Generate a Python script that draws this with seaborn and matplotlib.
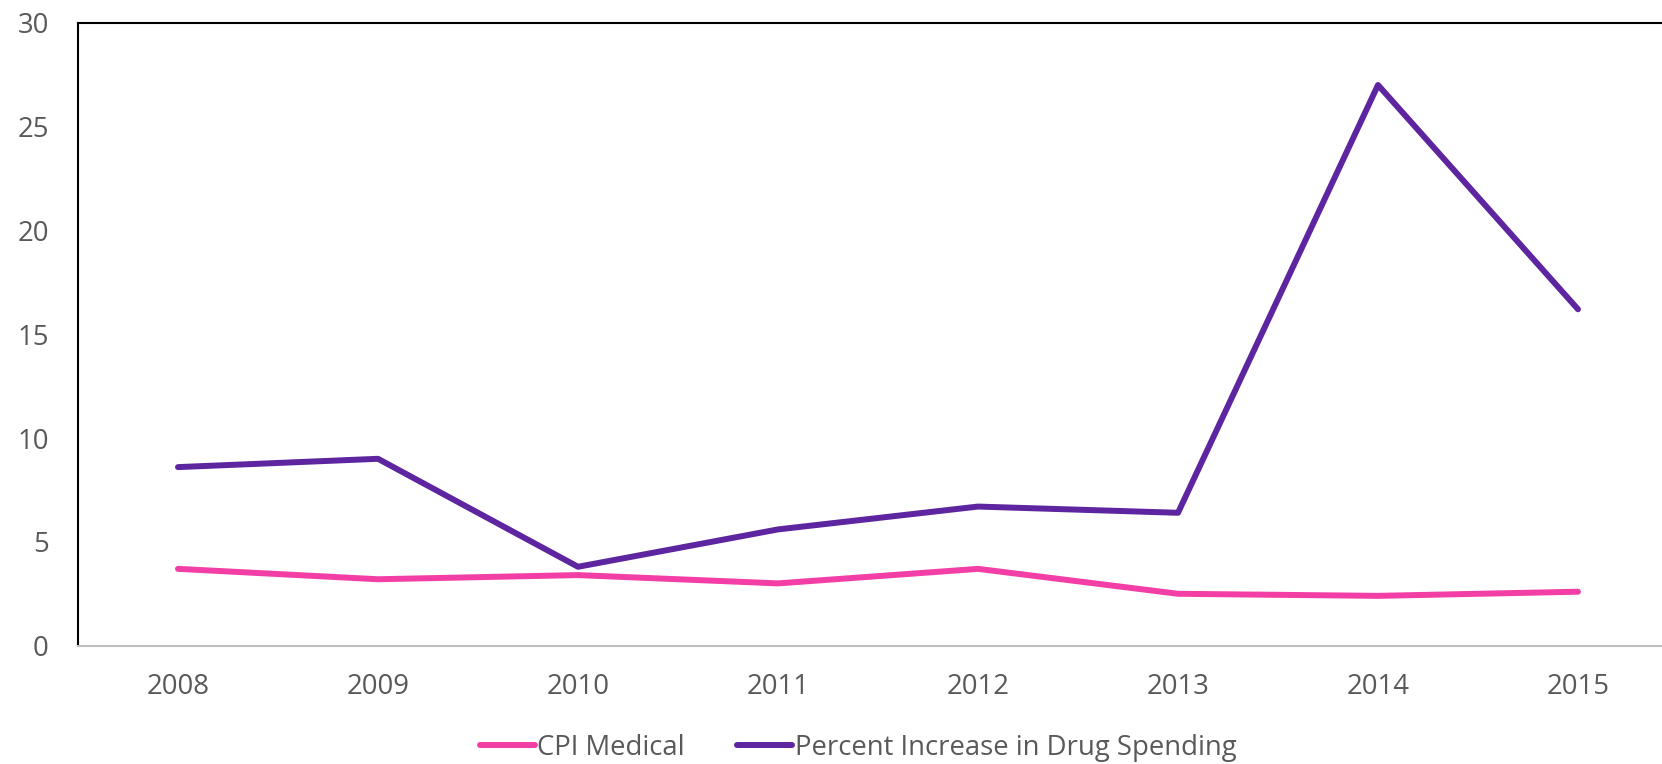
import matplotlib
matplotlib.use('Agg')
import matplotlib.pyplot as plt
import pandas as pd
import seaborn as sns

# data
years = ['2008', '2009', '2010', '2011', '2012', '2013', '2014', '2015']
cpi_medical = [3.7, 3.2, 3.4, 3.0, 3.7, 2.5, 2.4, 2.6]
drug_spending = [8.6, 9.0, 3.8, 5.6, 6.7, 6.4, 27.0, 16.2]
series_names = ['CPI Medical', 'Percent Increase in Drug Spending']
colors = ['#F33EA5', '#5D259F']

df = pd.DataFrame({
    'pos': list(range(len(years))) * 2,
    'value': cpi_medical + drug_spending,
    'series': [series_names[0]] * len(years) + [series_names[1]] * len(years),
})

sns.set_theme(style='white')
plt.rcParams['font.family'] = ['Open Sans', 'DejaVu Sans']

fig = plt.figure(figsize=(16.62, 7.64), dpi=100)
ax = fig.add_axes([78 / 1662, 118.3 / 764, 1584 / 1662, 623 / 764])

sns.lineplot(data=df, x='pos', y='value', hue='series', palette=colors,
             linewidth=4.3, ax=ax, legend=False)
for ln in ax.get_lines():
    ln.set_solid_capstyle('round')
    ln.set_solid_joinstyle('round')

ax.set_xlim(-0.5, -0.5 + 1584 / 200)
ax.set_ylim(0, 30)
ax.set_xticks(range(len(years)))
ax.set_xticklabels(years)
ax.set_yticks(range(0, 31, 5))
ax.set_xlabel('')
ax.set_ylabel('')
ax.tick_params(axis='both', length=0, labelsize=19.8, labelcolor='#595959')
ax.tick_params(axis='y', pad=21)
ax.tick_params(axis='x', pad=20)

ax.spines['right'].set_visible(False)
ax.spines['left'].set_color('black')
ax.spines['left'].set_linewidth(1.5)
ax.spines['top'].set_color('black')
ax.spines['top'].set_linewidth(1.5)
ax.spines['bottom'].set_color('#BFBFBF')
ax.spines['bottom'].set_linewidth(1.5)

handles = [plt.Line2D([], [], color=c, linewidth=4.3, solid_capstyle='round') for c in colors]
leg = fig.legend(handles, series_names, loc='center', bbox_to_anchor=(858 / 1662, 1 - 748 / 764),
                 ncol=2, frameon=False, fontsize=19.8, handlelength=2.0,
                 handletextpad=0.1, columnspacing=1.9, borderaxespad=0, borderpad=0)
for t in leg.get_texts():
    t.set_color('#595959')

fig.savefig('out.png', dpi=100)
